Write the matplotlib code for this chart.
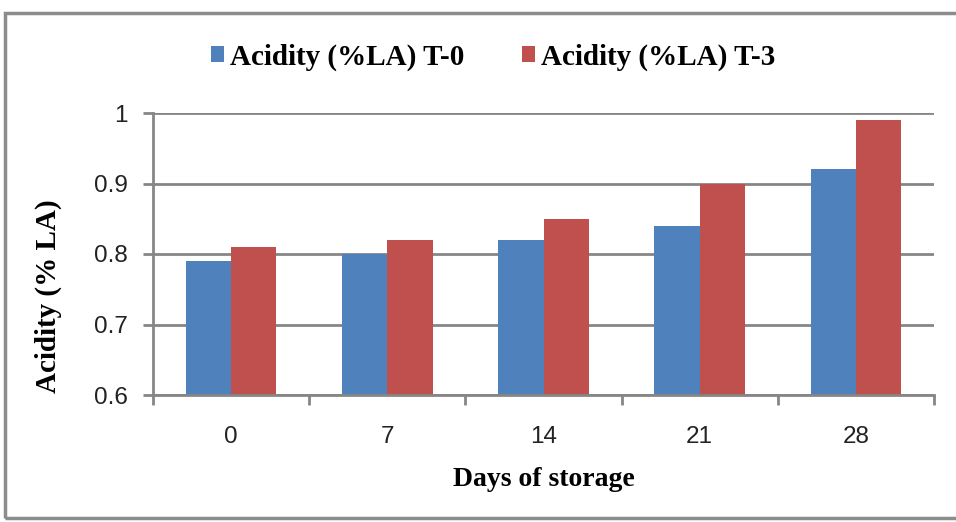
import numpy as np
import matplotlib.pyplot as plt
from matplotlib.patches import Rectangle

days = ['0', '7', '14', '21', '28']
t0 = [0.79, 0.80, 0.82, 0.84, 0.92]
t3 = [0.81, 0.82, 0.85, 0.90, 0.99]
yticks = [0.6, 0.7, 0.8, 0.9, 1.0]
ytick_labels = ['0.6', '0.7', '0.8', '0.9', '1']

blue = '#4f81bd'
red = '#c0504d'
grey = '#868686'

fig = plt.figure(figsize=(9.56, 5.22), dpi=100)
fig.patches.append(Rectangle((5 / 956, 4 / 522), 1.2, 505 / 522, transform=fig.transFigure,
                             fill=False, edgecolor='#8c8c8c', linewidth=2.5))
ax = fig.add_axes([153 / 956, (522 - 395) / 522, (934 - 153) / 956, (395 - 113) / 522])

x = np.arange(len(days))
w = 0.29
ax.bar(x - w / 2, t0, w, color=blue, label='Acidity (%LA) T-0', zorder=3)
ax.bar(x + w / 2, t3, w, color=red, label='Acidity (%LA) T-3', zorder=3)

ax.set_xlim(-0.5, len(days) - 0.5)
ax.set_ylim(0.6, 1.0)
ax.set_yticks(yticks)
ax.set_yticklabels(ytick_labels, fontsize=17.5, family='Liberation Sans', color='#222222')
ax.set_xticks(x)
ax.set_xticklabels(days, fontsize=17.5, family='Liberation Sans', color='#222222')
ax.set_xticks(np.arange(len(days) + 1) - 0.5, minor=True)
ax.tick_params(axis='x', which='major', length=0, pad=22)
ax.tick_params(axis='x', which='minor', length=7, width=2, color=grey, direction='out')
ax.tick_params(axis='y', length=7, width=2, color=grey, pad=11)
ax.grid(axis='y', color=grey, linewidth=2, zorder=0)
for s in ['top', 'right']:
    ax.spines[s].set_visible(False)
for s in ['left', 'bottom']:
    ax.spines[s].set_color(grey)
    ax.spines[s].set_linewidth(2)
ax.spines['bottom'].set_zorder(4)

ax.set_xlabel('Days of storage', fontsize=20, family='Liberation Serif', fontweight='bold', labelpad=14)
ax.set_ylabel('Acidity (% LA)', fontsize=21, family='Liberation Serif', fontweight='bold')
ax.yaxis.set_label_coords(-0.1165, 0.35)

fig.legend(loc='center', bbox_to_anchor=(493 / 956, 1 - 57 / 522), ncol=2, frameon=False,
           prop={'family': 'Liberation Serif', 'weight': 'bold', 'size': 21},
           handlelength=0.45, handleheight=0.45, handletextpad=0.2, columnspacing=2.0)

fig.savefig('out.png', dpi=100)
